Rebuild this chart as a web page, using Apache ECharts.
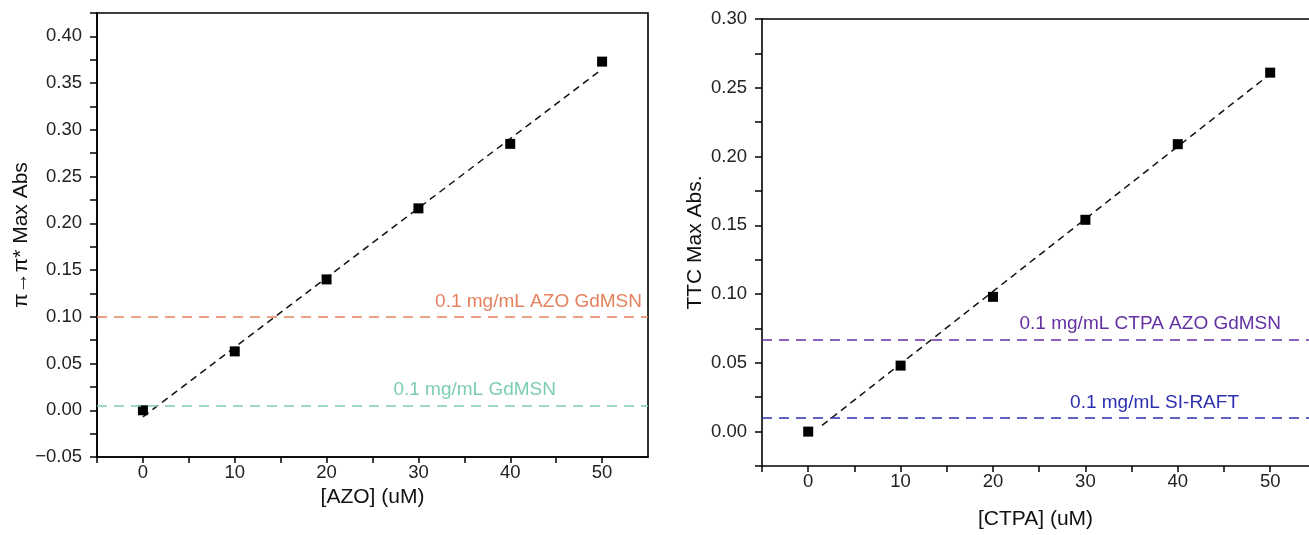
<!DOCTYPE html>
<html>
<head>
<meta charset="utf-8">
<script src="https://cdn.jsdelivr.net/npm/echarts@6/dist/echarts.min.js"></script>
<style>
html,body{margin:0;padding:0;background:#fff;}
#chart{width:1309px;height:535px;}
</style>
</head>
<body>
<div id="chart"></div>
<script>
// ---- data ----
const xTickLabels = [0, 10, 20, 30, 40, 50];

const azoConc = [0, 10, 20, 30, 40, 50];
const azoAbs = [0.000, 0.063, 0.140, 0.216, 0.285, 0.373];
const azoFitX = [0, 50];
const azoFitY = [-0.007, 0.365];
const azoRefNames = ['0.1 mg/mL AZO GdMSN', '0.1 mg/mL GdMSN'];
const azoRefValues = [0.100, 0.005];

const ctpaConc = [0, 10, 20, 30, 40, 50];
const ctpaAbs = [0.000, 0.048, 0.098, 0.154, 0.209, 0.261];
const ctpaFitX = [1.5, 50];
const ctpaFitY = [0.0045, 0.260];
const ctpaRefNames = ['0.1 mg/mL CTPA AZO GdMSN', '0.1 mg/mL SI-RAFT'];
const ctpaRefValues = [0.067, 0.010];

// ---- chart ----
const FONT = 'Liberation Sans, Arial, sans-serif';
const chart = echarts.init(document.getElementById('chart'), null, {renderer: 'canvas'});

function pair(xs, ys) { return xs.map((x, i) => [x, ys[i]]); }
function isMult(v, step) { return Math.abs(v - Math.round(v / step) * step) < 1e-6; }
function yFmt(v) {
  if (!isMult(v, 0.05) || v > 0.4001) return '';
  const s = Math.abs(v).toFixed(2);
  return v < -1e-9 ? '\u2212' + s : s;
}
function xFmt(v) {
  return xTickLabels.some(t => Math.abs(t - v) < 1e-6) ? String(Math.round(v)) : '';
}

const axisLineStyle = {color: '#000', width: 1.6};
const baseX = (gridIndex, max, nameGap, name) => ({
  type: 'value', gridIndex, min: -5, max, interval: 5, name,
  nameLocation: 'middle', nameGap,
  nameTextStyle: {fontFamily: FONT, fontSize: 21, color: '#111'},
  axisLine: {show: true, onZero: false, lineStyle: axisLineStyle},
  axisTick: {show: true, inside: false, length: 6, lineStyle: {color: '#000', width: 1.5}},
  axisLabel: {formatter: xFmt, fontFamily: FONT, fontSize: 18.5, color: '#222', margin: 6, showMaxLabel: false},
  splitLine: {show: false}
});
const baseY = (gridIndex, min, max, nameGap, name) => ({
  type: 'value', gridIndex, min, max, interval: 0.025, name,
  nameLocation: 'middle', nameGap,
  nameTextStyle: {fontFamily: FONT, fontSize: 21, color: '#111'},
  axisLine: {show: true, onZero: false, lineStyle: axisLineStyle},
  axisTick: {show: true, inside: false, length: 7, lineStyle: {color: '#000', width: 1.5}},
  axisLabel: {formatter: yFmt, fontFamily: FONT, fontSize: 18.5, color: '#222', margin: 15},
  splitLine: {show: false}
});

function refLines(names, values, colors, pads) {
  return {
    silent: true,
    symbol: 'none',
    precision: 4,
    data: values.map((v, i) => ({
      yAxis: v,
      lineStyle: {color: colors[i], type: [10, 7], width: 1.6},
      label: {
        show: true, position: 'insideEndTop', formatter: names[i],
        color: colors[i], fontFamily: FONT, fontSize: 19, distance: 6,
        padding: [0, pads[i], 0, 0]
      }
    }))
  };
}

const option = {
  animation: false,
  backgroundColor: '#fff',
  grid: [
    {left: 97, top: 13, width: 551, height: 444, show: true, borderColor: '#000', borderWidth: 1.6},
    {left: 762, top: 19, right: 0, height: 448}
  ],
  xAxis: [
    baseX(0, 55, 23, '[AZO] (uM)'),
    baseX(1, 54.2, 43, '[CTPA] (uM)'),
    {type: 'value', gridIndex: 1, position: 'top', min: -5, max: 54.2,
     axisLine: {show: true, onZero: false, lineStyle: axisLineStyle}, axisTick: {show: false},
     axisLabel: {show: false}, splitLine: {show: false}}
  ],
  yAxis: [
    baseY(0, -0.05, 0.425, 65, '\u03c0\u2192\u03c0* Max Abs'),
    baseY(1, -0.025, 0.30, 56, 'TTC Max Abs.')
  ],
  series: [
    {
      type: 'line', xAxisIndex: 0, yAxisIndex: 0, data: pair(azoFitX, azoFitY),
      symbol: 'none', lineStyle: {color: '#111', width: 1.5, type: [7, 5]}, z: 3,
      markLine: refLines(azoRefNames, azoRefValues, ['#E5825E', '#7DCDB3'], [0, 86])
    },
    {
      type: 'scatter', xAxisIndex: 0, yAxisIndex: 0, data: pair(azoConc, azoAbs),
      symbol: 'rect', symbolSize: 10, itemStyle: {color: '#000', opacity: 1}, z: 4
    },
    {
      type: 'line', xAxisIndex: 1, yAxisIndex: 1, data: pair(ctpaFitX, ctpaFitY),
      symbol: 'none', lineStyle: {color: '#111', width: 1.5, type: [7, 5]}, z: 3,
      markLine: refLines(ctpaRefNames, ctpaRefValues, ['#6331A3', '#2D2FAE'], [22, 64])
    },
    {
      type: 'scatter', xAxisIndex: 1, yAxisIndex: 1, data: pair(ctpaConc, ctpaAbs),
      symbol: 'rect', symbolSize: 10, itemStyle: {color: '#000', opacity: 1}, z: 4
    }
  ]
};
chart.setOption(option);
</script>
</body>
</html>
